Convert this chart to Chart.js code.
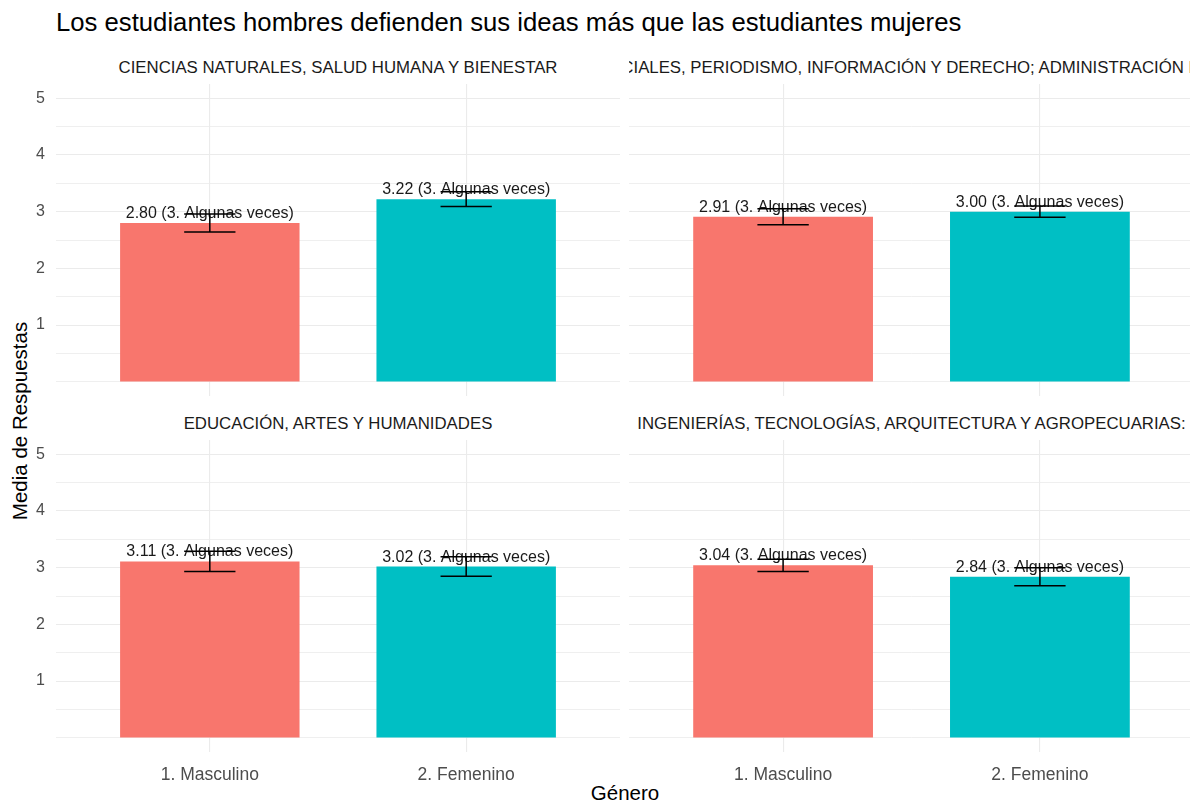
<!DOCTYPE html>
<html>
<head>
<meta charset="utf-8">
<script src="https://cdn.jsdelivr.net/npm/chart.js@4.4.1/dist/chart.umd.min.js"></script>
<style>
  body { margin: 0; background: #fff; font-family: "Liberation Sans", Arial, sans-serif; }
  #page { position: relative; width: 1190px; height: 803px; overflow: hidden; background: #fff; }
  .txt { position: absolute; white-space: nowrap; line-height: 1; }
  .strip { position: absolute; overflow: hidden; height: 30px; }
  .strip span { position: absolute; top: 6px; left: 50%; transform: translateX(-50%); white-space: nowrap; line-height: 1; font-size: 16.8px; color: #1a1a1a; }
  canvas { position: absolute; }
</style>
</head>
<body>
<div id="page">
  <div class="txt" id="title" style="left:56px;top:10px;font-size:25.7px;color:#000;"></div>
  <div class="txt" id="xtitle" style="left:625px;top:783px;font-size:20.5px;color:#000;transform:translateX(-50%);"></div>
  <div class="txt" id="ytitle" style="left:20px;top:421px;font-size:20.5px;color:#000;transform:translate(-50%,-50%) rotate(-90deg);"></div>
</div>
<script>
// datos
const chartTitle = 'Los estudiantes hombres defienden sus ideas más que las estudiantes mujeres';
const xTitle = 'Género';
const yTitle = 'Media de Respuestas';
const categories = ['1. Masculino', '2. Femenino'];
const facets = [
  'CIENCIAS NATURALES, SALUD HUMANA Y BIENESTAR',
  'CIENCIAS SOCIALES, PERIODISMO, INFORMACIÓN Y DERECHO; ADMINISTRACIÓN DE EMPRESAS',
  'EDUCACIÓN, ARTES Y HUMANIDADES',
  'INGENIERÍAS, TECNOLOGÍAS, ARQUITECTURA Y AGROPECUARIAS:'
];
const meanMasculino = [2.80, 2.91, 3.11, 3.04];
const meanFemenino = [3.22, 3.00, 3.02, 2.84];
const errMasculino = [0.16, 0.14, 0.18, 0.11];
const errFemenino = [0.13, 0.10, 0.17, 0.16];
const answerMasculino = ['3. Algunas veces', '3. Algunas veces', '3. Algunas veces', '3. Algunas veces'];
const answerFemenino = ['3. Algunas veces', '3. Algunas veces', '3. Algunas veces', '3. Algunas veces'];
const yTickLabels = [1, 2, 3, 4, 5];
const barColors = ['#F8766D', '#00BFC4'];

document.getElementById('title').textContent = chartTitle;
document.getElementById('xtitle').textContent = xTitle;
document.getElementById('ytitle').textContent = yTitle;

// paneles (posicion en la pagina)
const panels = [
  { left: 0,   top: 84,  width: 620, height: 312, showY: true,  showX: false, stripLeft: 56,  stripTop: 53.5 },
  { left: 629, top: 84,  width: 565, height: 312, showY: false, showX: false, stripLeft: 629, stripTop: 53.5 },
  { left: 0,   top: 440, width: 620, height: 312 + 40, showY: true,  showX: true, stripLeft: 56,  stripTop: 410 },
  { left: 629, top: 440, width: 565, height: 312 + 40, showY: false, showX: true, stripLeft: 629, stripTop: 410 }
];

const page = document.getElementById('page');

// grid lines every 0.5 like ggplot minor breaks
const gridValues = [];
for (let v = 0; v <= 5; v += 0.5) gridValues.push(v);

function makePanel(i) {
  const p = panels[i];
  const strip = document.createElement('div');
  strip.className = 'strip';
  strip.style.left = p.stripLeft + 'px';
  strip.style.top = p.stripTop + 'px';
  strip.style.width = (p.left + p.width - p.stripLeft) + 'px';
  const span = document.createElement('span');
  span.textContent = facets[i];
  strip.appendChild(span);
  page.appendChild(strip);

  const canvas = document.createElement('canvas');
  canvas.width = p.width;
  canvas.height = p.height;
  canvas.style.left = p.left + 'px';
  canvas.style.top = p.top + 'px';
  canvas.style.width = p.width + 'px';
  canvas.style.height = p.height + 'px';
  page.appendChild(canvas);

  const means = [meanMasculino[i], meanFemenino[i]];
  const errs = [errMasculino[i], errFemenino[i]];
  const answers = [answerMasculino[i], answerFemenino[i]];

  const barText = {
    id: 'barText',
    afterDatasetsDraw(chart) {
      const { ctx, scales: { x, y } } = chart;
      ctx.save();
      ctx.font = '16px "Liberation Sans", Arial, sans-serif';
      ctx.fillStyle = '#1a1a1a';
      ctx.textAlign = 'center';
      ctx.textBaseline = 'alphabetic';
      means.forEach((m, j) => {
        ctx.fillText(m.toFixed(2) + ' (' + answers[j] + ')', x.getPixelForValue(j), y.getPixelForValue(m) - 5);
      });
      ctx.restore();
    }
  };

  const errorBars = {
    id: 'errorBars',
    afterDatasetsDraw(chart) {
      const { ctx, scales: { x, y } } = chart;
      ctx.save();
      ctx.strokeStyle = '#000';
      ctx.lineWidth = 1.5;
      means.forEach((m, j) => {
        const lo = y.getPixelForValue(m - errs[j]);
        const hi = y.getPixelForValue(m + errs[j]);
        const xl = x.getPixelForValue(j - 0.1);
        const xr = x.getPixelForValue(j + 0.1);
        const xc = x.getPixelForValue(j);
        ctx.beginPath();
        ctx.moveTo(xl, lo); ctx.lineTo(xr, lo);
        ctx.moveTo(xl, hi); ctx.lineTo(xr, hi);
        ctx.moveTo(xc, lo); ctx.lineTo(xc, hi);
        ctx.stroke();
      });
      ctx.restore();
    }
  };

  new Chart(canvas.getContext('2d'), {
    type: 'bar',
    data: {
      datasets: [{
        data: categories.map((c, j) => ({ x: j, y: means[j] })),
        backgroundColor: barColors,
        borderWidth: 0,
        categoryPercentage: 0.7,
        barPercentage: 1.0
      }]
    },
    options: {
      responsive: false,
      animation: false,
      layout: { padding: 0 },
      plugins: { legend: { display: false }, tooltip: { enabled: false } },
      scales: {
        x: {
          type: 'linear',
          offset: false,
          min: -0.6,
          max: 1.6,
          afterBuildTicks: s => { s.ticks = categories.map((c, j) => ({ value: j })); },
          afterFit: s => { s.height = p.showX ? 40 : 0; s.paddingLeft = 0; s.paddingRight = 0; },
          border: { display: false },
          grid: { color: '#ebebeb', lineWidth: 1.1, drawTicks: false, offset: false },
          ticks: {
            display: p.showX,
            autoSkip: false,
            maxRotation: 0,
            padding: 13,
            color: '#4d4d4d',
            font: { family: '"Liberation Sans", Arial, sans-serif', size: 17.5 },
            callback: v => categories[v]
          }
        },
        y: {
          min: -0.25,
          max: 5.25,
          afterBuildTicks: s => { s.ticks = gridValues.map(v => ({ value: v })); },
          afterFit: s => { s.width = p.showY ? 56 : 0; s.paddingTop = 0; s.paddingBottom = 0; },
          border: { display: false },
          grid: {
            color: '#ebebeb',
            drawTicks: false,
            lineWidth: c => (yTickLabels.includes(c.tick.value) ? 1.1 : 0.8)
          },
          ticks: {
            display: p.showY,
            padding: 11,
            color: '#4d4d4d',
            font: { family: '"Liberation Sans", Arial, sans-serif', size: 16 },
            callback: v => (yTickLabels.includes(v) ? String(v) : '')
          }
        }
      }
    },
    plugins: [barText, errorBars]
  });
}

panels.forEach((p, i) => makePanel(i));
</script>
</body>
</html>
